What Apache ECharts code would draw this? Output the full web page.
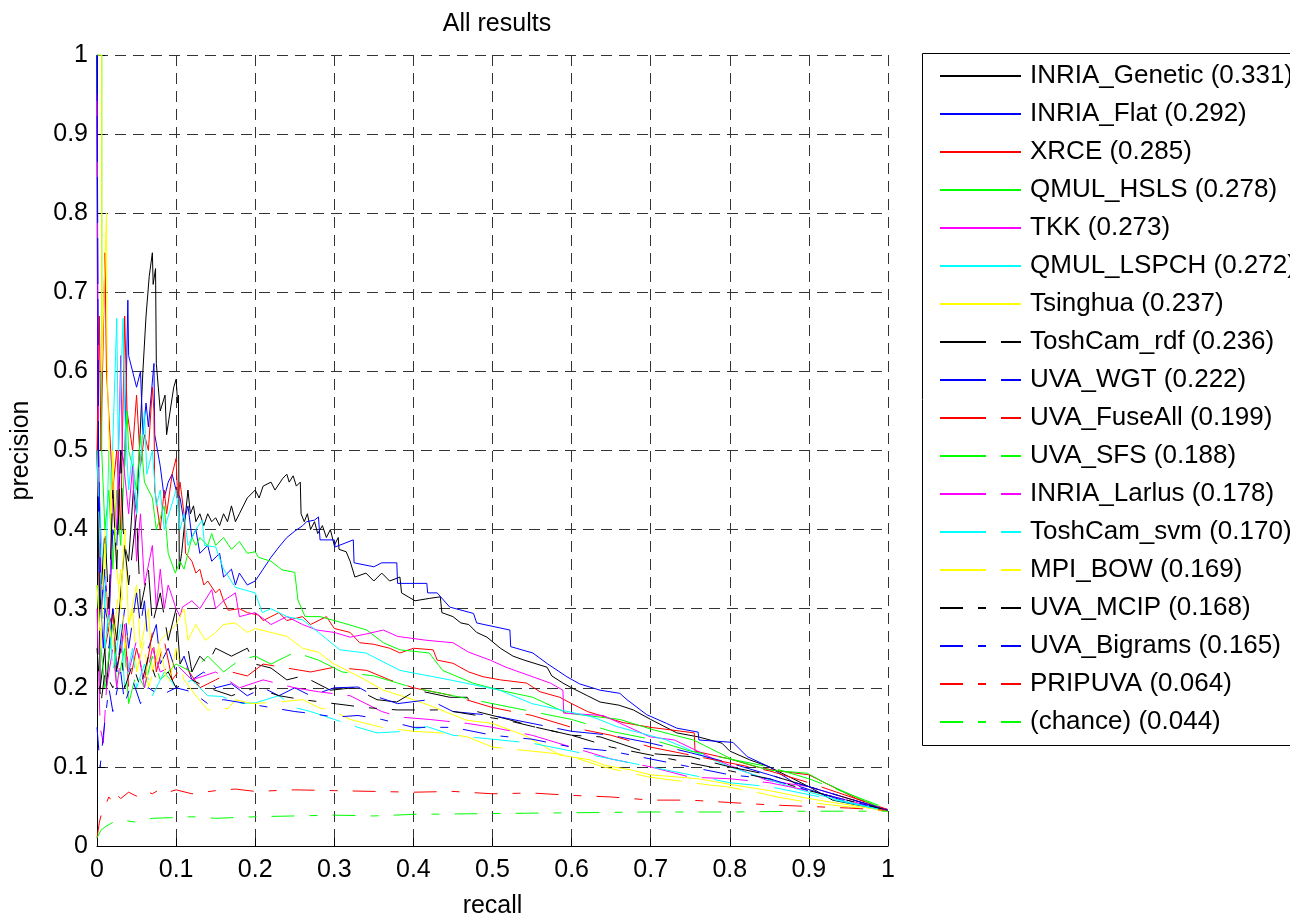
<!DOCTYPE html>
<html>
<head>
<meta charset="utf-8">
<title>All results</title>
<script src="https://cdn.jsdelivr.net/npm/echarts@6/dist/echarts.min.js"></script>
<style>
  html, body { margin: 0; padding: 0; background: #fff; }
  #main { width: 1290px; height: 916px; }
</style>
</head>
<body>
<div id="main"></div>
<script>
// methods in legend order, with their average precision
const methods = [
  'INRIA_Genetic', 'INRIA_Flat', 'XRCE', 'QMUL_HSLS', 'TKK', 'QMUL_LSPCH', 'Tsinghua',
  'ToshCam_rdf', 'UVA_WGT', 'UVA_FuseAll', 'UVA_SFS', 'INRIA_Larlus', 'ToshCam_svm', 'MPI_BOW',
  'UVA_MCIP', 'UVA_Bigrams', 'PRIPUVA', '(chance)'
];
const ap = [0.331, 0.292, 0.285, 0.278, 0.273, 0.272, 0.237, 0.236, 0.222, 0.199, 0.188, 0.178, 0.170, 0.169, 0.168, 0.165, 0.064, 0.044];

// precision-recall curves, [recall, precision]
const inriaGenetic = [[0,1],[0.001,0.5],[0.004,0.2],[0.01,0.25],[0.012,0.2],[0.02,0.3],[0.025,0.26],[0.035,0.38],[0.04,0.36],[0.046,0.45],[0.05,0.42],[0.058,0.6],[0.062,0.67],[0.066,0.72],[0.07,0.75],[0.071,0.71],[0.074,0.73],[0.075,0.61],[0.08,0.55],[0.086,0.57],[0.088,0.52],[0.097,0.58],[0.1,0.59],[0.102,0.56],[0.103,0.57],[0.104,0.35],[0.107,0.37],[0.115,0.45],[0.118,0.42],[0.122,0.43],[0.125,0.41],[0.13,0.42],[0.135,0.405],[0.14,0.42],[0.145,0.41],[0.15,0.415],[0.155,0.405],[0.16,0.42],[0.165,0.41],[0.17,0.43],[0.175,0.41],[0.18,0.42],[0.19,0.44],[0.2,0.45],[0.205,0.44],[0.21,0.455],[0.22,0.46],[0.225,0.45],[0.235,0.465],[0.24,0.47],[0.243,0.46],[0.248,0.468],[0.252,0.455],[0.257,0.46],[0.258,0.42],[0.262,0.41],[0.266,0.42],[0.27,0.4],[0.275,0.41],[0.279,0.395],[0.285,0.405],[0.29,0.39],[0.295,0.4],[0.3,0.38],[0.305,0.39],[0.306,0.375],[0.315,0.372],[0.32,0.36],[0.326,0.34],[0.34,0.345],[0.35,0.335],[0.36,0.345],[0.37,0.335],[0.383,0.34],[0.385,0.32],[0.402,0.31],[0.42,0.313],[0.434,0.315],[0.436,0.295],[0.45,0.29],[0.46,0.282],[0.47,0.28],[0.48,0.27],[0.493,0.264],[0.51,0.25],[0.526,0.24],[0.54,0.235],[0.569,0.226],[0.575,0.215],[0.589,0.206],[0.6,0.2],[0.62,0.19],[0.636,0.182],[0.66,0.178],[0.678,0.172],[0.7,0.16],[0.733,0.143],[0.76,0.138],[0.79,0.13],[0.8,0.12],[0.825,0.109],[0.85,0.1],[0.88,0.085],[0.9,0.075],[0.93,0.058],[0.96,0.052],[1,0.045]];
const inriaFlat = [[0,1],[0.001,0.5],[0.003,0.33],[0.008,0.25],[0.01,0.3],[0.015,0.28],[0.02,0.4],[0.025,0.38],[0.03,0.5],[0.035,0.48],[0.039,0.69],[0.04,0.62],[0.05,0.58],[0.055,0.6],[0.058,0.52],[0.062,0.56],[0.065,0.53],[0.072,0.61],[0.073,0.52],[0.08,0.48],[0.085,0.44],[0.09,0.46],[0.095,0.47],[0.1,0.45],[0.105,0.44],[0.11,0.41],[0.115,0.43],[0.12,0.39],[0.125,0.4],[0.13,0.37],[0.14,0.38],[0.145,0.36],[0.155,0.37],[0.16,0.34],[0.17,0.35],[0.175,0.33],[0.18,0.345],[0.19,0.33],[0.2,0.335],[0.21,0.35],[0.22,0.365],[0.23,0.378],[0.24,0.39],[0.25,0.398],[0.26,0.405],[0.265,0.41],[0.275,0.412],[0.28,0.416],[0.282,0.387],[0.3,0.387],[0.301,0.378],[0.324,0.387],[0.325,0.358],[0.35,0.353],[0.36,0.358],[0.379,0.358],[0.38,0.332],[0.417,0.332],[0.418,0.32],[0.43,0.32],[0.446,0.302],[0.476,0.294],[0.48,0.282],[0.522,0.273],[0.523,0.252],[0.551,0.244],[0.57,0.23],[0.594,0.214],[0.61,0.205],[0.636,0.197],[0.661,0.193],[0.67,0.185],[0.695,0.166],[0.72,0.155],[0.733,0.149],[0.76,0.144],[0.761,0.134],[0.804,0.131],[0.822,0.113],[0.85,0.1],[0.889,0.075],[0.92,0.065],[0.95,0.055],[1,0.046]];
const xrce = [[0,0.5],[0.003,0.67],[0.005,0.5],[0.01,0.75],[0.012,0.6],[0.02,0.45],[0.025,0.5],[0.03,0.4],[0.035,0.67],[0.038,0.55],[0.045,0.5],[0.05,0.57],[0.055,0.48],[0.06,0.52],[0.065,0.5],[0.07,0.58],[0.072,0.55],[0.073,0.45],[0.08,0.4],[0.085,0.45],[0.088,0.42],[0.095,0.47],[0.1,0.49],[0.102,0.44],[0.105,0.46],[0.11,0.42],[0.112,0.37],[0.12,0.36],[0.125,0.345],[0.13,0.35],[0.135,0.33],[0.14,0.335],[0.15,0.32],[0.155,0.325],[0.16,0.31],[0.166,0.298],[0.18,0.3],[0.19,0.295],[0.204,0.292],[0.21,0.285],[0.23,0.295],[0.24,0.285],[0.26,0.29],[0.27,0.28],[0.29,0.29],[0.3,0.275],[0.32,0.27],[0.332,0.257],[0.35,0.255],[0.37,0.25],[0.383,0.244],[0.4,0.25],[0.425,0.248],[0.43,0.235],[0.45,0.231],[0.47,0.22],[0.488,0.214],[0.51,0.21],[0.543,0.206],[0.56,0.195],[0.585,0.188],[0.6,0.18],[0.62,0.17],[0.665,0.156],[0.7,0.15],[0.755,0.143],[0.756,0.12],[0.8,0.11],[0.834,0.1],[0.86,0.095],[0.9,0.09],[0.93,0.075],[0.96,0.06],[1,0.045]];
const qmulHsls = [[0,1],[0.006,1],[0.006,0.5],[0.01,0.4],[0.015,0.45],[0.02,0.35],[0.025,0.45],[0.03,0.38],[0.038,0.55],[0.04,0.5],[0.045,0.48],[0.05,0.45],[0.055,0.52],[0.06,0.46],[0.07,0.44],[0.075,0.4],[0.085,0.43],[0.09,0.37],[0.099,0.345],[0.105,0.36],[0.11,0.35],[0.12,0.39],[0.125,0.38],[0.13,0.39],[0.14,0.38],[0.145,0.395],[0.15,0.38],[0.16,0.39],[0.17,0.375],[0.18,0.385],[0.19,0.37],[0.2,0.372],[0.204,0.365],[0.22,0.36],[0.234,0.349],[0.25,0.346],[0.254,0.311],[0.263,0.29],[0.282,0.29],[0.3,0.285],[0.311,0.282],[0.341,0.273],[0.362,0.257],[0.383,0.248],[0.42,0.244],[0.437,0.222],[0.475,0.206],[0.509,0.197],[0.551,0.188],[0.594,0.168],[0.661,0.16],[0.703,0.147],[0.754,0.134],[0.804,0.109],[0.85,0.096],[0.898,0.092],[0.92,0.08],[0.968,0.058],[1,0.045]];
const tkk = [[0,0.95],[0.002,0.5],[0.006,0.3],[0.01,0.35],[0.015,0.28],[0.02,0.45],[0.025,0.4],[0.03,0.62],[0.032,0.5],[0.04,0.42],[0.045,0.48],[0.05,0.36],[0.055,0.42],[0.06,0.33],[0.07,0.38],[0.075,0.3],[0.08,0.35],[0.085,0.3],[0.09,0.33],[0.1,0.3],[0.105,0.29],[0.108,0.302],[0.12,0.31],[0.13,0.3],[0.145,0.324],[0.15,0.3],[0.16,0.31],[0.175,0.32],[0.18,0.29],[0.2,0.295],[0.22,0.28],[0.24,0.29],[0.26,0.28],[0.278,0.273],[0.3,0.27],[0.32,0.264],[0.34,0.268],[0.362,0.273],[0.38,0.265],[0.417,0.26],[0.45,0.257],[0.47,0.245],[0.497,0.235],[0.517,0.226],[0.573,0.206],[0.589,0.197],[0.59,0.168],[0.64,0.165],[0.699,0.138],[0.73,0.134],[0.78,0.11],[0.847,0.083],[0.9,0.075],[0.95,0.06],[1,0.046]];
const qmulLspch = [[0,0.5],[0.005,0.4],[0.01,0.3],[0.015,0.5],[0.018,0.45],[0.025,0.667],[0.027,0.5],[0.033,0.667],[0.035,0.55],[0.04,0.45],[0.045,0.5],[0.05,0.42],[0.06,0.55],[0.063,0.47],[0.07,0.5],[0.075,0.43],[0.08,0.45],[0.085,0.4],[0.1,0.45],[0.105,0.4],[0.11,0.42],[0.115,0.38],[0.125,0.4],[0.133,0.412],[0.136,0.38],[0.15,0.378],[0.16,0.35],[0.175,0.327],[0.2,0.32],[0.209,0.295],[0.22,0.3],[0.24,0.29],[0.26,0.286],[0.28,0.27],[0.307,0.248],[0.34,0.244],[0.383,0.222],[0.446,0.21],[0.509,0.197],[0.55,0.18],[0.627,0.163],[0.657,0.151],[0.72,0.134],[0.8,0.1],[0.889,0.071],[0.93,0.06],[1,0.044]];
const tsinghua = [[0,1],[0.006,1],[0.006,0.6],[0.008,0.67],[0.012,0.8],[0.013,0.6],[0.018,0.4],[0.02,0.5],[0.025,0.35],[0.03,0.3],[0.035,0.4],[0.04,0.28],[0.05,0.33],[0.055,0.25],[0.065,0.3],[0.07,0.22],[0.08,0.26],[0.09,0.27],[0.1,0.28],[0.11,0.3],[0.115,0.26],[0.125,0.28],[0.137,0.26],[0.15,0.27],[0.16,0.28],[0.175,0.282],[0.19,0.27],[0.2,0.275],[0.22,0.27],[0.24,0.265],[0.26,0.25],[0.28,0.245],[0.298,0.231],[0.33,0.215],[0.362,0.197],[0.4,0.185],[0.425,0.176],[0.467,0.159],[0.5,0.155],[0.54,0.14],[0.585,0.115],[0.623,0.109],[0.642,0.102],[0.676,0.096],[0.7,0.09],[0.76,0.085],[0.8,0.078],[0.85,0.07],[0.9,0.06],[1,0.044]];
const toshCamRdf = [[0,0.5],[0.004,0.3],[0.01,0.4],[0.015,0.3],[0.02,0.45],[0.025,0.35],[0.03,0.5],[0.033,0.4],[0.04,0.33],[0.05,0.42],[0.055,0.3],[0.065,0.35],[0.07,0.28],[0.08,0.32],[0.09,0.26],[0.1,0.3],[0.105,0.23],[0.115,0.25],[0.12,0.22],[0.13,0.24],[0.14,0.23],[0.15,0.25],[0.17,0.24],[0.19,0.25],[0.2,0.23],[0.22,0.225],[0.24,0.21],[0.26,0.215],[0.295,0.197],[0.324,0.2],[0.354,0.185],[0.379,0.182],[0.404,0.197],[0.446,0.188],[0.468,0.188],[0.48,0.17],[0.52,0.16],[0.551,0.151],[0.6,0.14],[0.636,0.138],[0.699,0.117],[0.75,0.113],[0.8,0.1],[0.85,0.09],[0.9,0.075],[1,0.045]];
const uvaWgt = [[0,1],[0.002,0.5],[0.005,0.3],[0.01,0.35],[0.015,0.25],[0.02,0.3],[0.025,0.22],[0.035,0.3],[0.04,0.25],[0.05,0.32],[0.055,0.28],[0.06,0.31],[0.065,0.25],[0.075,0.28],[0.08,0.23],[0.09,0.25],[0.1,0.22],[0.11,0.24],[0.12,0.21],[0.135,0.22],[0.15,0.2],[0.17,0.205],[0.19,0.19],[0.21,0.2],[0.23,0.19],[0.25,0.2],[0.27,0.19],[0.3,0.2],[0.33,0.201],[0.35,0.19],[0.38,0.18],[0.42,0.185],[0.45,0.17],[0.5,0.165],[0.55,0.155],[0.6,0.145],[0.65,0.14],[0.7,0.13],[0.75,0.118],[0.8,0.105],[0.85,0.09],[0.9,0.075],[1,0.045]];
const uvaFuseAll = [[0,0.5],[0.004,0.33],[0.01,0.25],[0.02,0.3],[0.025,0.22],[0.035,0.28],[0.04,0.2],[0.05,0.25],[0.06,0.21],[0.07,0.27],[0.075,0.22],[0.085,0.26],[0.095,0.21],[0.11,0.23],[0.13,0.2],[0.15,0.21],[0.17,0.22],[0.19,0.215],[0.21,0.23],[0.24,0.225],[0.27,0.22],[0.3,0.226],[0.341,0.222],[0.37,0.21],[0.4,0.2],[0.45,0.19],[0.5,0.175],[0.55,0.165],[0.6,0.15],[0.65,0.14],[0.7,0.125],[0.75,0.115],[0.8,0.105],[0.85,0.095],[0.9,0.08],[1,0.046]];
const uvaSfs = [[0,0.33],[0.005,0.25],[0.01,0.2],[0.02,0.28],[0.025,0.2],[0.035,0.25],[0.04,0.18],[0.05,0.22],[0.06,0.2],[0.07,0.24],[0.08,0.21],[0.1,0.23],[0.12,0.22],[0.14,0.24],[0.16,0.22],[0.18,0.235],[0.2,0.24],[0.22,0.23],[0.25,0.245],[0.28,0.235],[0.31,0.22],[0.35,0.215],[0.4,0.2],[0.45,0.19],[0.5,0.18],[0.55,0.17],[0.6,0.16],[0.65,0.145],[0.7,0.135],[0.75,0.12],[0.8,0.11],[0.85,0.1],[0.9,0.085],[1,0.047]];
const inriaLarlus = [[0,0.3],[0.004,0.15],[0.008,0.13],[0.012,0.2],[0.02,0.25],[0.025,0.2],[0.035,0.28],[0.04,0.22],[0.05,0.26],[0.06,0.2],[0.07,0.25],[0.08,0.22],[0.1,0.23],[0.12,0.21],[0.15,0.22],[0.18,0.2],[0.21,0.21],[0.25,0.2],[0.28,0.195],[0.32,0.19],[0.36,0.17],[0.383,0.163],[0.42,0.16],[0.468,0.155],[0.5,0.15],[0.55,0.14],[0.6,0.125],[0.65,0.11],[0.7,0.1],[0.75,0.087],[0.8,0.085],[0.85,0.08],[0.9,0.07],[1,0.045]];
const toshCamSvm = [[0,0.5],[0.005,0.33],[0.01,0.25],[0.015,0.3],[0.02,0.22],[0.03,0.28],[0.035,0.2],[0.045,0.25],[0.05,0.2],[0.06,0.23],[0.07,0.19],[0.085,0.22],[0.1,0.2],[0.12,0.21],[0.14,0.19],[0.158,0.189],[0.18,0.18],[0.2,0.181],[0.23,0.19],[0.25,0.175],[0.27,0.17],[0.3,0.16],[0.33,0.15],[0.354,0.143],[0.39,0.145],[0.417,0.151],[0.45,0.14],[0.5,0.135],[0.55,0.13],[0.6,0.12],[0.65,0.11],[0.7,0.1],[0.75,0.09],[0.8,0.08],[0.85,0.075],[0.9,0.065],[1,0.044]];
const mpiBow = [[0,0.33],[0.005,0.25],[0.01,0.4],[0.012,0.3],[0.02,0.25],[0.03,0.35],[0.035,0.25],[0.045,0.3],[0.05,0.22],[0.06,0.26],[0.065,0.2],[0.08,0.25],[0.09,0.2],[0.1,0.25],[0.11,0.21],[0.125,0.19],[0.14,0.172],[0.166,0.174],[0.175,0.185],[0.196,0.18],[0.229,0.182],[0.26,0.185],[0.28,0.175],[0.3,0.17],[0.32,0.16],[0.36,0.15],[0.4,0.145],[0.434,0.143],[0.468,0.138],[0.5,0.125],[0.569,0.118],[0.594,0.115],[0.64,0.1],[0.699,0.087],[0.775,0.077],[0.796,0.075],[0.838,0.067],[0.86,0.062],[0.9,0.055],[1,0.044]];
const uvaMcip = [[0,0.25],[0.005,0.18],[0.01,0.22],[0.02,0.2],[0.03,0.25],[0.035,0.2],[0.045,0.23],[0.055,0.2],[0.065,0.24],[0.075,0.21],[0.09,0.22],[0.1,0.2],[0.12,0.21],[0.14,0.2],[0.17,0.19],[0.2,0.2],[0.23,0.19],[0.26,0.185],[0.3,0.18],[0.34,0.175],[0.38,0.172],[0.438,0.172],[0.493,0.163],[0.518,0.159],[0.551,0.151],[0.6,0.14],[0.65,0.125],[0.7,0.115],[0.75,0.105],[0.8,0.095],[0.85,0.085],[0.9,0.07],[1,0.045]];
const uvaBigrams = [[0,0.15],[0.004,0.1],[0.008,0.14],[0.015,0.2],[0.02,0.17],[0.03,0.22],[0.035,0.18],[0.045,0.21],[0.055,0.18],[0.065,0.2],[0.08,0.19],[0.1,0.2],[0.12,0.195],[0.14,0.18],[0.16,0.185],[0.19,0.18],[0.22,0.175],[0.25,0.17],[0.267,0.168],[0.301,0.163],[0.33,0.165],[0.36,0.16],[0.4,0.15],[0.45,0.15],[0.5,0.14],[0.55,0.135],[0.6,0.125],[0.65,0.12],[0.7,0.11],[0.75,0.1],[0.8,0.09],[0.85,0.085],[0.9,0.07],[1,0.045]];
const pripuva = [[0,0.01],[0.003,0.03],[0.006,0.042],[0.01,0.05],[0.015,0.062],[0.02,0.055],[0.025,0.065],[0.03,0.06],[0.04,0.068],[0.05,0.063],[0.06,0.07],[0.07,0.066],[0.08,0.072],[0.09,0.068],[0.1,0.071],[0.12,0.066],[0.15,0.07],[0.175,0.072],[0.2,0.069],[0.25,0.071],[0.3,0.07],[0.35,0.069],[0.4,0.068],[0.45,0.069],[0.5,0.066],[0.55,0.067],[0.6,0.064],[0.65,0.062],[0.7,0.058],[0.75,0.058],[0.8,0.055],[0.85,0.052],[0.9,0.05],[0.95,0.048],[1,0.045]];
const chance = [[0,0.01],[0.005,0.02],[0.01,0.024],[0.02,0.03],[0.03,0.033],[0.05,0.03],[0.07,0.035],[0.1,0.036],[0.12,0.037],[0.15,0.035],[0.2,0.037],[0.25,0.038],[0.3,0.039],[0.35,0.038],[0.4,0.04],[0.5,0.041],[0.6,0.042],[0.7,0.043],[0.8,0.043],[0.9,0.044],[1,0.044]];

const curves = [inriaGenetic, inriaFlat, xrce, qmulHsls, tkk, qmulLspch, tsinghua,
  toshCamRdf, uvaWgt, uvaFuseAll, uvaSfs, inriaLarlus, toshCamSvm, mpiBow,
  uvaMcip, uvaBigrams, pripuva, chance];

const colors = ['#000000', '#0000ff', '#ff0000', '#00ff00', '#ff00ff', '#00ffff', '#ffff00'];
const dashed = [46, 15];
const dashDot = [23, 15, 8, 15];

const font = "'Liberation Sans', Arial, Helvetica, sans-serif";

const series = curves.map((data, i) => {
  let type = 'solid';
  let color = colors[i % 7];
  if (i >= 7 && i < 14) type = dashed;
  if (i >= 14) {
    type = dashDot;
    color = ['#000000', '#0000ff', '#ff0000', '#00ff00'][i - 14];
  }
  return {
    name: methods[i] + ' (' + ap[i].toFixed(3) + ')',
    type: 'line',
    data: data,
    symbol: 'none',
    color: color,
    lineStyle: { color: color, width: 1, type: type },
  };
});

const chart = echarts.init(document.getElementById('main'));
chart.setOption({
  animation: false,
  backgroundColor: '#fff',
  title: {
    text: 'All results',
    left: 492,
    textAlign: 'center',
    top: 7,
    textStyle: { fontFamily: font, fontSize: 25, fontWeight: 'normal', color: '#000' },
  },
  // fixed plot box, labels may sit outside it
  grid: { left: 97, top: 55, width: 791, height: 791, outerBoundsMode: 'none', containLabel: false },
  xAxis: {
    type: 'value',
    min: 0, max: 1, interval: 0.1,
    name: 'recall',
    nameLocation: 'middle',
    nameGap: 48,
    nameTextStyle: { fontFamily: font, fontSize: 25, color: '#000' },
    axisLine: { lineStyle: { color: '#000', width: 1 } },
    axisTick: { inside: true, length: 8, lineStyle: { color: '#000' } },
    axisLabel: { fontFamily: font, fontSize: 25, color: '#000', margin: 12 },
    splitLine: { show: true, lineStyle: { color: '#333', type: [11, 7] } },
  },
  yAxis: {
    type: 'value',
    min: 0, max: 1, interval: 0.1,
    name: 'precision',
    nameLocation: 'middle',
    nameGap: 63,
    nameTextStyle: { fontFamily: font, fontSize: 25, color: '#000' },
    axisLine: { show: true, lineStyle: { color: '#000', width: 1 } },
    axisTick: { show: true, inside: true, length: 8, lineStyle: { color: '#000' } },
    axisLabel: { fontFamily: font, fontSize: 25, color: '#000', margin: 9 },
    splitLine: { show: true, lineStyle: { color: '#333', type: [11, 7] } },
  },
  legend: {
    orient: 'vertical',
    left: 939,
    top: 62,
    padding: 0,
    itemWidth: 81,
    itemHeight: 14,
    itemGap: 10,
    selectedMode: false,
    itemStyle: { opacity: 0 },
    textStyle: { fontFamily: font, fontSize: 26, color: '#000', lineHeight: 28, padding: [0, 0, 0, 4] },
  },
  graphic: [{
    type: 'rect',
    shape: { x: 922.5, y: 53.5, width: 420, height: 692 },
    style: { fill: 'none', stroke: '#000', lineWidth: 1 },
    z: 0,
  }],
  series: series,
});
</script>
</body>
</html>
